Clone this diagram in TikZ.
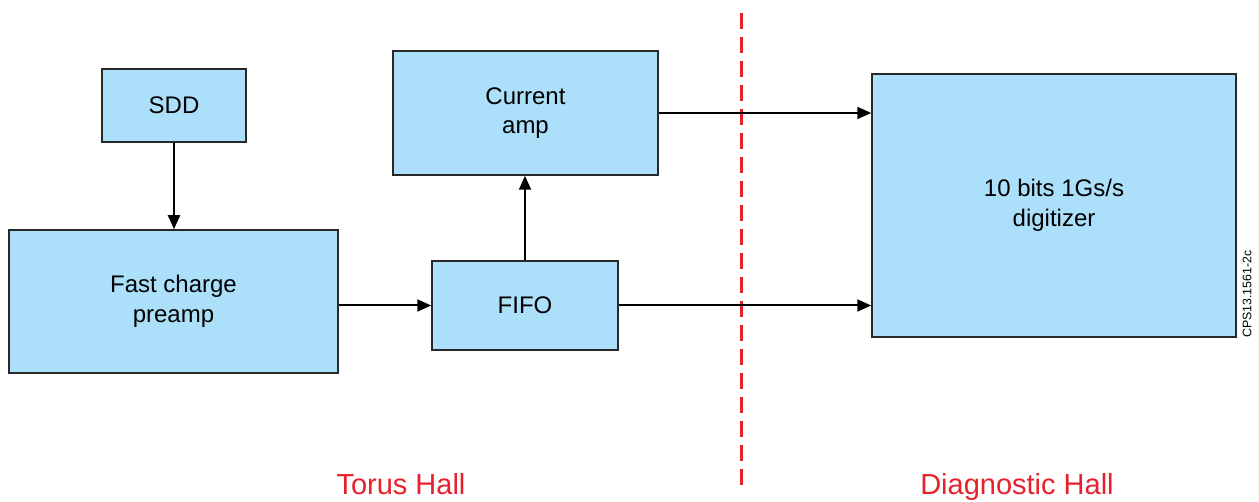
\documentclass[tikz,border=0pt]{standalone}
\usepackage{fontspec}
\setmainfont{Liberation Sans}
\usetikzlibrary{arrows.meta}
\definecolor{boxblue}{RGB}{172,224,250}
\definecolor{boxline}{RGB}{40,40,40}
\definecolor{hallred}{RGB}{232,32,44}
\begin{document}
\begin{tikzpicture}[x=1pt,y=-1pt,
  blk/.style={draw=boxline,line width=1.5pt,fill=boxblue,inner sep=0pt,align=center,
    font=\fontsize{24}{29.5}\selectfont},
  conn/.style={line width=2pt,-{Triangle[length=14pt,width=12pt]}},
  hall/.style={text=hallred,anchor=base,font=\fontsize{29}{32}\selectfont}]
\useasboundingbox (0,0) rectangle (1259,502);
\node[blk,minimum width=144pt,minimum height=73pt] (sdd) at (174,105.5) {SDD};
\node[blk,minimum width=329pt,minimum height=143pt] (pre) at (173.5,301.5) {Fast charge\\preamp};
\node[blk,minimum width=186pt,minimum height=89pt] (fifo) at (525,305.5) {FIFO};
\node[blk,minimum width=265pt,minimum height=124pt] (cur) at (525.5,113) {Current\\amp};
\node[blk,minimum width=364pt,minimum height=263pt] (dig) at (1054,205.5) {10 bits 1Gs/s\\digitizer};
\coordinate (dtop) at (741,13);
\coordinate (dbot) at (741,492);
\draw[hallred,line width=3pt,dash pattern=on 16pt off 8pt] (dtop) -- (dbot);
\draw[conn] (sdd.south) -- (pre.north -| sdd.south);
\draw[conn] (pre.east |- fifo.west) -- (fifo.west);
\draw[conn] (fifo.north) -- (cur.south -| fifo.north);
\draw[conn] (cur.east) -- (dig.west |- cur.east);
\draw[conn] (fifo.east) -- (dig.west |- fifo.east);
\node[hall] (th) at (401,495) {Torus Hall};
\node[hall] (dh) at (1017,495) {Diagnostic Hall};
\node[rotate=90,font=\fontsize{12.4}{14}\selectfont] (cps) at (1247,294) {CPS13.1561-2c};
\end{tikzpicture}
\end{document}
